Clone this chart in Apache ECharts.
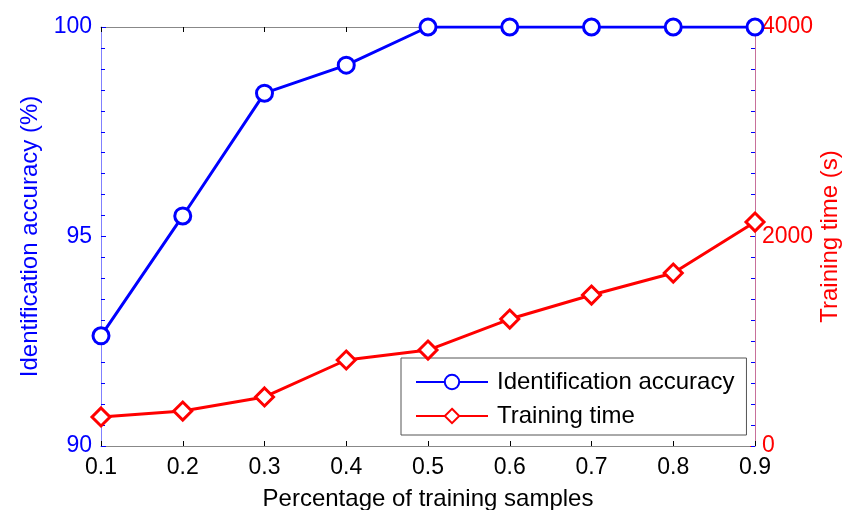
<!DOCTYPE html>
<html>
<head>
<meta charset="utf-8">
<script src="https://cdn.jsdelivr.net/npm/echarts@6/dist/echarts.min.js"></script>
<style>
  html, body { margin: 0; padding: 0; background: #fff; }
  #main { width: 843px; height: 510px; }
</style>
</head>
<body>
<div id="main"></div>
<script>
// 训练样本比例
var categories = ['0.1', '0.2', '0.3', '0.4', '0.5', '0.6', '0.7', '0.8', '0.9'];
// 识别准确率 (%)
var accuracy = [92.63, 95.49, 98.42, 99.09, 100, 100, 100, 100, 100];
// 训练时间 (s)
var trainTime = [277, 334, 468, 821, 916, 1212, 1441, 1651, 2138];

var font = 'Liberation Sans, Arial, sans-serif';
var myChart = echarts.init(document.getElementById('main'));

myChart.setOption({
    animation: false,
    grid: { left: 101, right: 88, top: 27, bottom: 64, outerBoundsMode: 'none', containLabel: false },
    legend: {
        orient: 'vertical',
        left: 401,
        top: 358,
        padding: [12, 12, 7, 14],
        itemGap: 10,
        itemWidth: 72,
        itemHeight: 18,
        borderColor: '#555',
        borderWidth: 1,
        backgroundColor: '#fff',
        textStyle: { fontFamily: font, fontSize: 24, color: '#000', padding: [0, 0, 0, 4] },
        data: ['Identification accuracy', 'Training time']
    },
    xAxis: [{
        type: 'category',
        data: categories,
        boundaryGap: false,
        name: 'Percentage of training samples',
        nameLocation: 'middle',
        nameGap: 41,
        nameMoveOverlap: false,
        nameTextStyle: { fontFamily: font, fontSize: 24, color: '#000' },
        axisLine: { lineStyle: { color: '#888', width: 1 } },
        axisTick: { inside: true, length: 5, lineStyle: { color: '#000' } },
        axisLabel: { fontFamily: font, fontSize: 23, color: '#000', margin: 10 },
        splitLine: { show: false }
    }, {
        type: 'category',
        data: categories,
        boundaryGap: false,
        position: 'top',
        axisLine: { lineStyle: { color: '#888', width: 1 } },
        axisTick: { inside: true, length: 5, lineStyle: { color: '#000' } },
        axisLabel: { show: false },
        splitLine: { show: false }
    }],
    yAxis: [{
        type: 'value',
        min: 90,
        max: 100,
        interval: 5,
        position: 'left',
        name: 'Identification accuracy (%)',
        nameLocation: 'middle',
        nameGap: 59,
        nameMoveOverlap: false,
        nameTextStyle: { fontFamily: font, fontSize: 24, color: '#0000ff' },
        axisLine: { show: true, lineStyle: { color: '#8080ff', width: 1 } },
        axisTick: { show: true, inside: true, length: 5, lineStyle: { color: '#0000ff' } },
        minorTick: { show: true, splitNumber: 10, length: 4, lineStyle: { color: '#0000ff' } },
        axisLabel: { fontFamily: font, fontSize: 23, color: '#0000ff', margin: 9 },
        splitLine: { show: false }
    }, {
        type: 'value',
        min: 0,
        max: 4000,
        interval: 2000,
        position: 'right',
        name: 'Training time (s)',
        nameLocation: 'middle',
        nameGap: 63,
        nameMoveOverlap: false,
        nameTextStyle: { fontFamily: font, fontSize: 24, color: '#ff0000' },
        axisLine: { show: true, lineStyle: { color: '#c8709a', width: 1 } },
        axisTick: { show: true, inside: true, length: 5, lineStyle: { color: '#ff0000' } },
        axisLabel: {
            fontFamily: font, fontSize: 23, color: '#ff0000', margin: 7,
            formatter: function (v) { return String(v); }
        },
        splitLine: { show: false }
    }, {
        type: 'value',
        min: 90,
        max: 100,
        interval: 5,
        position: 'right',
        axisLine: { show: false },
        axisTick: { show: true, inside: true, length: 4, lineStyle: { color: '#0000ff' } },
        minorTick: { show: true, splitNumber: 10, length: 4, lineStyle: { color: '#0000ff' } },
        axisLabel: { show: false },
        splitLine: { show: false }
    }],
    series: [{
        name: 'Identification accuracy',
        type: 'line',
        yAxisIndex: 0,
        data: accuracy,
        symbol: 'circle',
        symbolSize: 16,
        lineStyle: { color: '#0000ff', width: 3 },
        itemStyle: { color: '#fff', borderColor: '#0000ff', borderWidth: 3 },
        z: 3
    }, {
        name: 'Training time',
        type: 'line',
        yAxisIndex: 1,
        data: trainTime,
        symbol: 'diamond',
        symbolSize: [18, 18],
        lineStyle: { color: '#ff0000', width: 3 },
        itemStyle: { color: '#fff', borderColor: '#ff0000', borderWidth: 3 },
        z: 4
    }]
});
</script>
</body>
</html>
